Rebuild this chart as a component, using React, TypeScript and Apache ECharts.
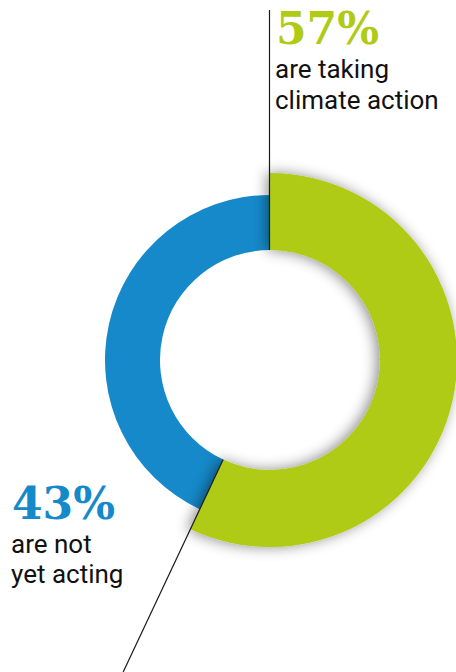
import React, { useEffect, useRef } from "react";
import * as echarts from "echarts";

const categories = ["are taking climate action", "are not yet acting"];
const values = [57, 43];
const percentLabels = ["57%", "43%"];
const textLines = [["are taking", "climate action"], ["are not", "yet acting"]];
const colors = ["#AFCB15", "#1589C9"];

export default function App() {
  const ref = useRef<HTMLDivElement>(null);
  useEffect(() => {
    const chart = echarts.init(ref.current!, null, { renderer: "svg" });
    const cx = 270;
    const cy = 360;
    const inner = 110;
    const total = values[0] + values[1];
    const ang = (values[0] / total) * 2 * Math.PI; // clockwise from top
    const bx = cx + inner * Math.sin(ang);
    const by = cy - inner * Math.cos(ang);
    const t = (672 - by) / (-Math.cos(ang));
    const ex = bx + t * Math.sin(ang);
    const transparent = { color: "rgba(0,0,0,0)" };
    chart.setOption({
      animation: false,
      series: [
        {
          type: "pie",
          z: 1,
          center: [cx, cy],
          radius: [inner, 165],
          startAngle: 90,
          clockwise: true,
          silent: true,
          label: { show: false },
          labelLine: { show: false },
          data: [
            { name: categories[0], value: values[0], itemStyle: transparent },
            { name: categories[1], value: values[1], itemStyle: { color: colors[1] } },
          ],
        },
        {
          type: "pie",
          z: 2,
          center: [cx, cy],
          radius: [inner, 187],
          startAngle: 90,
          clockwise: true,
          silent: true,
          label: { show: false },
          labelLine: { show: false },
          data: [
            {
              name: categories[0],
              value: values[0],
              itemStyle: {
                color: colors[0],
                shadowBlur: 14,
                shadowColor: "rgba(0,0,0,0.45)",
                shadowOffsetX: -3,
                shadowOffsetY: 0,
              },
            },
            { name: categories[1], value: values[1], itemStyle: transparent },
          ],
        },
      ],
      graphic: [
        {
          type: "line",
          z: 10,
          shape: { x1: cx - 0.5, y1: 10, x2: cx - 0.5, y2: cy - inner },
          style: { stroke: "#1a1a1a", lineWidth: 1.2 },
        },
        {
          type: "line",
          z: 10,
          shape: { x1: bx, y1: by, x2: ex, y2: 672 },
          style: { stroke: "#1a1a1a", lineWidth: 1.2 },
        },
        {
          type: "text",
          z: 10,
          left: 276,
          top: 6,
          style: {
            text: percentLabels[0],
            fill: colors[0],
            font: "bold 44px 'DejaVu Serif'",
          },
        },
        {
          type: "text",
          z: 10,
          left: 275,
          top: 53,
          style: {
            text: textLines[0].join("\n"),
            fill: "#111",
            font: "26px Roboto",
            lineHeight: 31,
          },
        },
        {
          type: "text",
          z: 10,
          left: 12,
          top: 481,
          style: {
            text: percentLabels[1],
            fill: colors[1],
            font: "bold 44px 'DejaVu Serif'",
          },
        },
        {
          type: "text",
          z: 10,
          left: 11,
          top: 529,
          style: {
            text: textLines[1].join("\n"),
            fill: "#111",
            font: "26px Roboto",
            lineHeight: 30,
          },
        },
      ],
    });
    return () => chart.dispose();
  }, []);
  return (
    <div
      ref={ref}
      style={{ position: "fixed", left: 0, top: 0, width: 456, height: 672, background: "#fff" }}
    />
  );
}
